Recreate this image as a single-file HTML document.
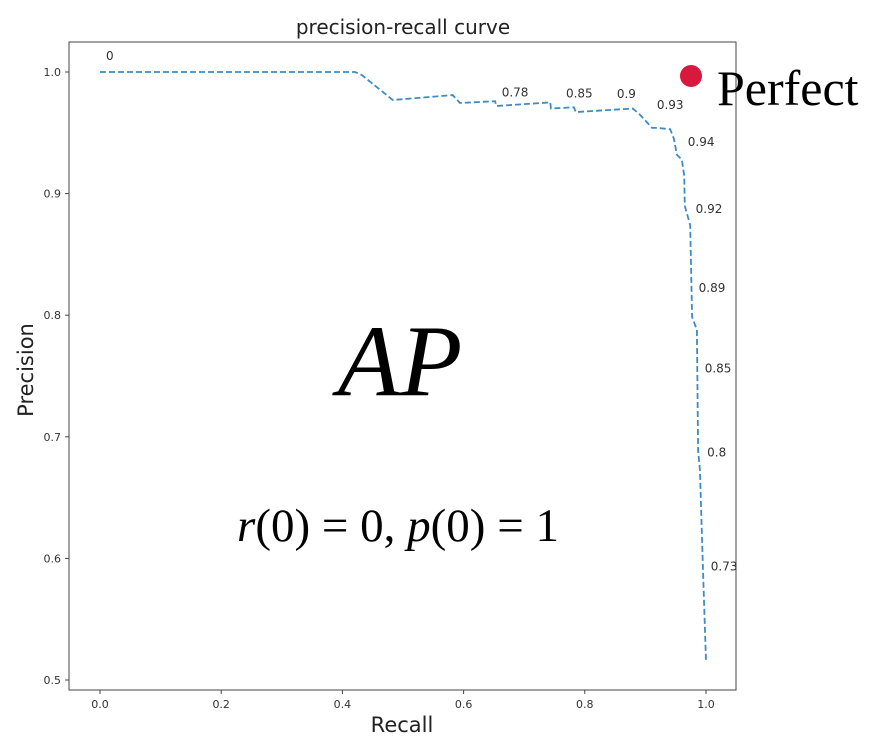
<!DOCTYPE html>
<html><head><meta charset="utf-8"><style>
body{margin:0;background:#fff;width:874px;height:743px;overflow:hidden}
svg text{font-family:"DejaVu Sans","Liberation Sans",sans-serif}
</style></head><body>
<svg id="chart" width="874" height="743" xmlns="http://www.w3.org/2000/svg">
<rect x="0" y="0" width="874" height="743" fill="#fff"/>
<text x="403" y="34" font-size="20" text-anchor="middle" fill="#222">precision-recall curve</text>
<rect x="69" y="42" width="667" height="648" fill="none" stroke="#444" stroke-width="1"/>
<g id="xticks"></g>
<g id="yticks"></g>
<text x="402" y="732" font-size="21" text-anchor="middle" fill="#222">Recall</text>
<text x="0" y="0" font-size="21" text-anchor="middle" fill="#222" transform="translate(33,370) rotate(-90)">Precision</text>
<path id="curve" fill="none" stroke="#3d8cc4" stroke-width="1.8" stroke-dasharray="6,3"/>
<g id="labels"></g>
<text x="400" y="395" font-size="102" font-style="italic" text-anchor="middle" fill="#000" style="font-family:'Liberation Serif',serif">AP</text>
<text x="398" y="541" font-size="47" text-anchor="middle" fill="#000" style="font-family:'Liberation Serif',serif"><tspan font-style="italic">r</tspan>(0) = 0, <tspan font-style="italic">p</tspan>(0) = 1</text>
<circle cx="691" cy="76" r="11" fill="#d8183c"/>
<text x="717" y="105" font-size="50" fill="#000" style="font-family:'Liberation Serif',serif">Perfect</text>
</svg>
<script>
const recall=[0,0.421,0.432,0.483,0.582,0.594,0.652,0.654,0.743,0.744,0.782,0.785,0.879,0.890,0.911,0.919,0.941,0.947,0.952,0.960,0.964,0.965,0.974,0.977,0.985,0.987,0.990,0.995,1.0];
const precision=[1,1,0.9975,0.977,0.981,0.9745,0.976,0.972,0.975,0.970,0.971,0.967,0.970,0.9655,0.954,0.954,0.953,0.945,0.932,0.928,0.915,0.8898,0.874,0.7985,0.788,0.689,0.673,0.590,0.516];
const labelText=["0","0.78","0.85","0.9","0.93","0.94","0.92","0.89","0.85","0.8","0.73"];
const labelR=[0.0,0.653,0.759,0.843,0.909,0.960,0.973,0.978,0.988,0.992,0.998];
const labelP=[1.0099,0.980,0.979,0.9786,0.9696,0.939,0.884,0.819,0.753,0.684,0.590];
const xTicks=[0,0.2,0.4,0.6,0.8,1.0];
const yTicks=[0.5,0.6,0.7,0.8,0.9,1.0];
const NS="http://www.w3.org/2000/svg";
function xs(r){return 100+r*606;}
function ys(p){return 72+(1-p)*1216;}
let d="";
for(let i=0;i<recall.length;i++){d+=(i?"L":"M")+xs(recall[i]).toFixed(1)+","+ys(precision[i]).toFixed(1);}
document.getElementById("curve").setAttribute("d",d);
const lg=document.getElementById("labels");
labelText.forEach((t,i)=>{const e=document.createElementNS(NS,"text");


e.setAttribute("x",xs(labelR[i])+6);e.setAttribute("y",ys(labelP[i]));e.setAttribute("font-size","12");e.setAttribute("fill","#333");e.textContent=t;lg.appendChild(e);});
const xg=document.getElementById("xticks");
xTicks.forEach(v=>{const l=document.createElementNS(NS,"line");


l.setAttribute("x1",xs(v));l.setAttribute("x2",xs(v));l.setAttribute("y1",690);l.setAttribute("y2",694);l.setAttribute("stroke","#444");xg.appendChild(l);
const t=document.createElementNS(NS,"text");


t.setAttribute("x",xs(v));t.setAttribute("y",708);t.setAttribute("font-size","11");t.setAttribute("text-anchor","middle");t.setAttribute("fill","#333");t.textContent=v.toFixed(1);xg.appendChild(t);});
const yg=document.getElementById("yticks");
yTicks.forEach(v=>{const l=document.createElementNS(NS,"line");


l.setAttribute("x1",65);l.setAttribute("x2",69);l.setAttribute("y1",ys(v));l.setAttribute("y2",ys(v));l.setAttribute("stroke","#444");yg.appendChild(l);
const t=document.createElementNS(NS,"text");


t.setAttribute("x",61);t.setAttribute("y",ys(v)+4);t.setAttribute("font-size","11");t.setAttribute("text-anchor","end");t.setAttribute("fill","#333");t.textContent=v.toFixed(1);yg.appendChild(t);});
</script>
</body></html>
